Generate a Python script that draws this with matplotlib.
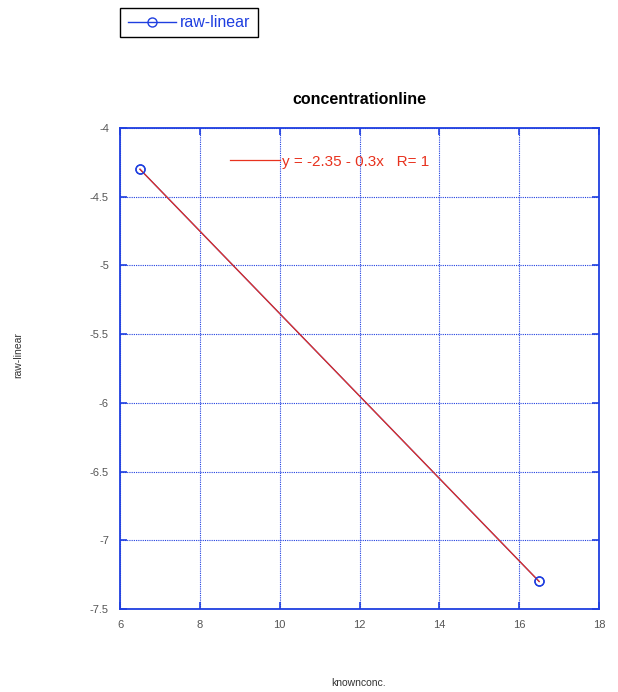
import numpy as np
import matplotlib.pyplot as plt
from matplotlib.lines import Line2D

plt.rcParams['font.family'] = ['Liberation Sans', 'DejaVu Sans']

known_conc = np.array([6.5, 16.5])
raw_linear = np.array([-4.3, -7.3])
x_ticks = [6, 8, 10, 12, 14, 16, 18]
y_ticks = [-7.5, -7, -6.5, -6, -5.5, -5, -4.5, -4]
y_tick_labels = ["-7.5", "-7", "-6.5", "-6", "-5.5", "-5", "-4.5", "-4"]

slope, intercept = np.polyfit(known_conc, raw_linear, 1)
fit_y = intercept + slope * known_conc

blue = "#1f3fe0"
red = "#e8321e"

fig = plt.figure(figsize=(6.18, 6.92), dpi=100)
ax = fig.add_axes([0.1942, 0.12, 0.7751, 0.695])

ax.plot(known_conc, raw_linear, color=blue, lw=0.9, marker="o", ms=6.5,
        mfc="none", mec=blue, mew=1.0, zorder=3)
fit_line, = ax.plot(known_conc, fit_y, color=red, lw=0.9, zorder=4)
# markers again so they sit above the red fit
ax.plot(known_conc, raw_linear, ls="none", marker="o", ms=6.5,
        mfc="none", mec=blue, mew=1.0, zorder=5)

ax.set_xlim(6, 18)
ax.set_ylim(-7.5, -4)
ax.set_xticks(x_ticks)
ax.set_yticks(y_ticks)
ax.set_yticklabels(y_tick_labels)
ax.grid(True, color=blue, ls=(0, (1, 1)), lw=0.8)
ax.tick_params(direction="in", length=5, width=1.2, color=blue,
               labelsize=8, labelcolor="#555555", top=True, right=True, pad=8)
for s in ax.spines.values():
    s.set_color(blue)
    s.set_linewidth(1.3)

ax.set_title("concentrationline", fontsize=11.5, fontweight="bold", pad=17)
fig.text(0.581, 0.013, "knownconc.", fontsize=7.5, color="#333333",
         ha="center", va="center")
fig.text(0.03, 0.487, "raw-linear", fontsize=7.5, color="#333333",
         ha="center", va="center", rotation=90)

fit_label = "y = %.2f - %.1fx   R= %d" % (intercept, abs(slope), 1)
ax.legend([fit_line], [fit_label], loc="upper left", bbox_to_anchor=(0.2, 0.973),
          frameon=False, fontsize=11, handlelength=3.3, handletextpad=0.1,
          labelcolor=red)

h = Line2D([], [], color=blue, lw=1, marker="o", ms=6.5, mfc="none", mec=blue)
fig.legend([h], ["raw-linear"], loc="upper left", bbox_to_anchor=(0.182, 1.0),
           fontsize=11.5, labelcolor=blue, fancybox=False, edgecolor="black",
           framealpha=1, handlelength=3.0, handletextpad=0.3, borderpad=0.45)

fig.savefig("out.png", dpi=100)
